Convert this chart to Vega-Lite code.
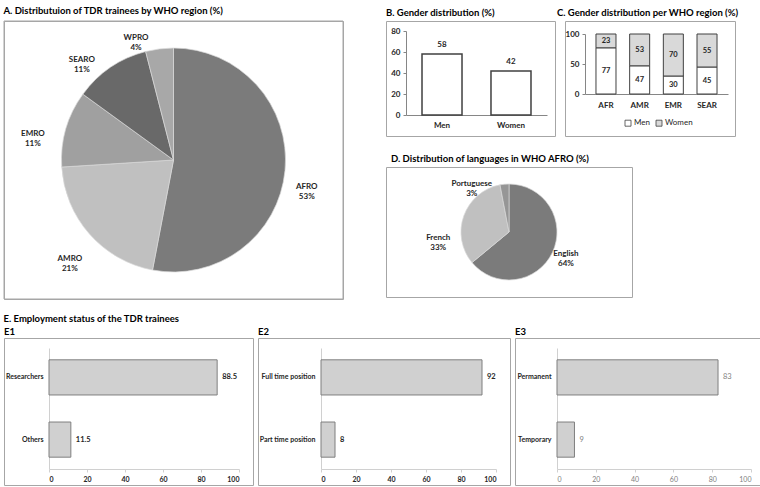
{
  "$schema": "https://vega.github.io/schema/vega-lite/v6.json",
  "background": "white",
  "padding": {"left": 3, "top": 5, "right": 0, "bottom": 0},
  "spacing": 13,
  "config": {
    "font": "Lato",
    "view": {"stroke": "#a6a6a6", "strokeWidth": 1},
    "axis": {"grid": false, "labelFont": "Lato", "labelFontSize": 8, "labelColor": "#262626", "domainColor": "#868686", "tickColor": "#868686", "title": null},
    "title": {"font": "Lato", "fontSize": 9.5, "fontWeight": "bold", "anchor": "start", "color": "#000000", "offset": 4},
    "text": {"font": "Lato"}
  },
  "resolve": {"scale": {"color": "independent", "theta": "independent"}, "legend": {"color": "independent"}},
  "vconcat": [
    {
      "spacing": 41,
      "resolve": {"scale": {"color": "independent", "theta": "independent"}, "legend": {"color": "independent"}},
      "hconcat": [
        {
          "width": 339, "height": 278,
          "view": {"stroke": "#a6a6a6", "strokeWidth": 1},
          "title": {"text": "A. Distributuion of TDR trainees  by WHO region (%)"},
          "data": {"values": [
            {"region": "AFRO", "pct": 53, "label": "AFRO\n53%"},
            {"region": "AMRO", "pct": 21, "label": "AMRO\n21%"},
            {"region": "EMRO", "pct": 11, "label": "EMRO\n11%"},
            {"region": "SEARO", "pct": 11, "label": "SEARO\n11%"},
            {"region": "WPRO", "pct": 4, "label": "WPRO\n4%"}
          ]},
          "layer": [
            {
              "transform": [{"aggregate": [{"op": "count", "as": "n"}]}],
              "mark": {"type": "rect", "fillOpacity": 0, "stroke": "#a6a6a6", "strokeWidth": 1},
              "encoding": {}
            },
            {
              "mark": {"type": "arc", "outerRadius": 112, "stroke": "#d9d9d9", "strokeWidth": 0.7},
              "encoding": {
                "theta": {"field": "pct", "type": "quantitative", "stack": true},
                "color": {"field": "region", "type": "nominal", "legend": null,
                  "scale": {"domain": ["AFRO", "AMRO", "EMRO", "SEARO", "WPRO"], "range": ["#7b7b7b", "#c0c0c0", "#a0a0a0", "#696969", "#a8a8a8"]}}
              }
            },
            {
              "mark": {"type": "text", "radius": 136, "lineBreak": "\n", "fontSize": 8, "fontWeight": "bold", "fill": "#262626", "lineHeight": 10},
              "encoding": {
                "theta": {"field": "pct", "type": "quantitative", "stack": true, "scale": {"range": [0.2094, 6.1035]}},
                "detail": {"field": "region", "type": "nominal"},
                "text": {"field": "label", "type": "nominal"},
                "opacity": {"condition": {"test": "datum.region === 'AFRO' || datum.region === 'SEARO'", "value": 1}, "value": 0}
              }
            },
            {
              "mark": {"type": "text", "radius": 143, "lineBreak": "\n", "fontSize": 8, "fontWeight": "bold", "fill": "#262626", "lineHeight": 10},
              "encoding": {
                "theta": {"field": "pct", "type": "quantitative", "stack": true, "scale": {"range": [0.2094, 6.1035]}},
                "detail": {"field": "region", "type": "nominal"},
                "text": {"field": "label", "type": "nominal"},
                "opacity": {"condition": {"test": "datum.region === 'AMRO' || datum.region === 'EMRO'", "value": 1}, "value": 0}
              }
            },
            {
              "mark": {"type": "text", "radius": 128, "lineBreak": "\n", "fontSize": 8, "fontWeight": "bold", "fill": "#262626", "lineHeight": 10},
              "encoding": {
                "theta": {"field": "pct", "type": "quantitative", "stack": true, "scale": {"range": [0.2094, 6.1035]}},
                "detail": {"field": "region", "type": "nominal"},
                "text": {"field": "label", "type": "nominal"},
                "opacity": {"condition": {"test": "datum.region === 'WPRO'", "value": 1}, "value": 0}
              }
            }
          ],
          "resolve": {"scale": {"theta": "independent"}}
        },
        {
          "spacing": 16,
          "resolve": {"scale": {"color": "independent", "theta": "independent"}, "legend": {"color": "independent"}},
          "vconcat": [
            {
              "spacing": 0,
              "resolve": {"scale": {"color": "independent"}, "legend": {"color": "independent"}},
              "hconcat": [
                {
                  "width": 169, "height": 115,
                  "title": {"text": "B. Gender distribution (%)"},
                  "data": {"values": [
                    {"gender": "Men", "pct": 58},
                    {"gender": "Women", "pct": 42}
                  ]},
                  "encoding": {
                    "x": {"field": "gender", "type": "nominal", "sort": null,
                      "scale": {"range": [20, 161], "paddingInner": 0.42, "paddingOuter": 0.232},
                      "axis": {"labelAngle": 0, "offset": -21, "ticks": false, "labelPadding": 6, "labelFontWeight": "bold"}},
                    "y": {"field": "pct", "type": "quantitative",
                      "scale": {"domain": [0, 80], "range": [94, 10]},
                      "axis": {"values": [0, 20, 40, 60, 80], "offset": -20, "tickSize": 3, "labelPadding": 3, "labelFontWeight": "bold"}}
                  },
                  "layer": [
                    {"mark": {"type": "bar", "fill": "white", "stroke": "#404040", "strokeWidth": 1.5}},
                    {"mark": {"type": "text", "dy": -9, "fontSize": 8, "fontWeight": "bold", "fill": "#262626"},
                      "encoding": {"text": {"field": "pct", "type": "quantitative"}}}
                  ]
                },
                {
                  "width": 170, "height": 115,
                  "title": {"text": "C. Gender distribution per WHO region (%)", "dx": -8},
                  "data": {"values": [
                    {"region": "AFR", "gender": "Men", "pct": 77},
                    {"region": "AFR", "gender": "Women", "pct": 23},
                    {"region": "AMR", "gender": "Men", "pct": 47},
                    {"region": "AMR", "gender": "Women", "pct": 53},
                    {"region": "EMR", "gender": "Men", "pct": 30},
                    {"region": "EMR", "gender": "Women", "pct": 70},
                    {"region": "SEAR", "gender": "Men", "pct": 45},
                    {"region": "SEAR", "gender": "Women", "pct": 55}
                  ]},
                  "encoding": {
                    "x": {"field": "region", "type": "nominal", "sort": null,
                      "scale": {"range": [20, 163], "paddingInner": 0.406, "paddingOuter": 0.326},
                      "axis": {"labelAngle": 0, "offset": -42, "ticks": false, "labelPadding": 7, "labelFontWeight": "bold"}},
                    "y": {"field": "pct", "type": "quantitative", "stack": "zero",
                      "scale": {"domain": [0, 100], "range": [73, 13]},
                      "axis": {"values": [0, 50, 100], "offset": -20, "tickSize": 3, "labelPadding": 3, "labelFontWeight": "bold"}},
                    "order": {"field": "gender", "type": "nominal", "sort": "ascending"}
                  },
                  "layer": [
                    {"mark": {"type": "bar", "stroke": "#404040", "strokeWidth": 1},
                      "encoding": {
                        "color": {"field": "gender", "type": "nominal",
                          "scale": {"domain": ["Men", "Women"], "range": ["#ffffff", "#d9d9d9"]},
                          "legend": {"title": null, "orient": "none", "legendX": 59, "legendY": 98, "direction": "horizontal",
                            "symbolType": "square", "symbolSize": 36, "symbolStrokeColor": "#404040", "symbolStrokeWidth": 0.8,
                            "labelFontSize": 8, "labelFont": "Lato", "labelColor": "#262626", "columnPadding": 4, "labelOffset": 2}}
                      }},
                    {"mark": {"type": "text", "fontSize": 7.5, "fontWeight": "bold", "fill": "#262626"},
                      "encoding": {
                        "y": {"field": "pct", "type": "quantitative", "stack": "zero", "bandPosition": 0.5},
                        "detail": {"field": "gender", "type": "nominal"},
                        "text": {"field": "pct", "type": "quantitative"}
                      }}
                  ]
                }
              ]
            },
            {
              "width": 246, "height": 130,
              "view": {"stroke": "#a6a6a6", "strokeWidth": 1},
              "title": {"text": "D. Distribution of languages in WHO AFRO (%)", "dx": 5},
              "data": {"values": [
                {"language": "English", "pct": 64, "label": "English\n64%"},
                {"language": "French", "pct": 33, "label": "French\n33%"},
                {"language": "Portuguese", "pct": 3, "label": "Portuguese\n3%"}
              ]},
              "layer": [
                {
                  "mark": {"type": "arc", "outerRadius": 48, "stroke": "#d9d9d9", "strokeWidth": 0.7},
                  "encoding": {
                    "theta": {"field": "pct", "type": "quantitative", "stack": true},
                    "color": {"field": "language", "type": "nominal", "legend": null,
                      "scale": {"domain": ["English", "French", "Portuguese"], "range": ["#7b7b7b", "#c0c0c0", "#969696"]}}
                  }
                },
                {
                  "mark": {"type": "text", "radius": 61, "lineBreak": "\n", "fontSize": 8, "fontWeight": "bold", "fill": "#262626", "lineHeight": 10},
                  "encoding": {
                    "theta": {"field": "pct", "type": "quantitative", "stack": true, "scale": {"range": [0.162, 5.711]}},
                    "detail": {"field": "language", "type": "nominal"},
                    "text": {"field": "label", "type": "nominal"},
                    "opacity": {"condition": {"test": "datum.language !== 'French'", "value": 1}, "value": 0}
                  }
                },
                {
                  "mark": {"type": "text", "radius": 71, "lineBreak": "\n", "fontSize": 8, "fontWeight": "bold", "fill": "#262626", "lineHeight": 10},
                  "encoding": {
                    "theta": {"field": "pct", "type": "quantitative", "stack": true, "scale": {"range": [0.162, 5.711]}},
                    "detail": {"field": "language", "type": "nominal"},
                    "text": {"field": "label", "type": "nominal"},
                    "opacity": {"condition": {"test": "datum.language === 'French'", "value": 1}, "value": 0}
                  }
                }
              ],
              "resolve": {"scale": {"theta": "independent"}}
            }
          ]
        }
      ]
    },
    {
      "title": {"text": "E. Employment status of the TDR trainees", "offset": 3},
      "spacing": 3,
      "hconcat": [
        {
          "width": 249, "height": 147,
          "title": {"text": "E1", "offset": 2},
          "data": {"values": [
            {"status": "Researchers", "value": 88.5},
            {"status": "Others", "value": 11.5}
          ]},
          "encoding": {
            "y": {"field": "status", "type": "nominal", "sort": null,
              "scale": {"range": [10, 131], "paddingInner": 0.435, "paddingOuter": 0.19},
              "axis": {"offset": -45, "ticks": false, "labelPadding": 6, "labelFontSize": 7, "labelFontWeight": "bold", "domainColor": "#d0d0d0"}},
            "x": {"field": "value", "type": "quantitative",
              "scale": {"domain": [0, 100], "range": [45, 235]},
              "axis": {"values": [0, 20, 40, 60, 80, 100], "offset": -16, "tickSize": 3, "labelPadding": 3, "labelFontSize": 7, "labelFontWeight": "bold", "domainColor": "#d0d0d0", "tickColor": "#d0d0d0"}}
          },
          "layer": [
            {"mark": {"type": "bar", "fill": "#d0d0d0", "stroke": "#7f7f7f", "strokeWidth": 1}},
            {"mark": {"type": "text", "align": "left", "dx": 5, "fontSize": 7.5, "fontWeight": "bold", "fill": "#262626"},
              "encoding": {"text": {"field": "value", "type": "quantitative"}}}
          ]
        },
        {
          "width": 252, "height": 147,
          "title": {"text": "E2", "offset": 2},
          "data": {"values": [
            {"status": "Full time position", "value": 92},
            {"status": "Part time position", "value": 8}
          ]},
          "encoding": {
            "y": {"field": "status", "type": "nominal", "sort": null,
              "scale": {"range": [10, 131], "paddingInner": 0.435, "paddingOuter": 0.19},
              "axis": {"offset": -63, "ticks": false, "labelPadding": 6, "labelFontSize": 7, "labelFontWeight": "bold", "domainColor": "#d0d0d0"}},
            "x": {"field": "value", "type": "quantitative",
              "scale": {"domain": [0, 100], "range": [63, 238]},
              "axis": {"values": [0, 20, 40, 60, 80, 100], "offset": -16, "tickSize": 3, "labelPadding": 3, "labelFontSize": 7, "labelFontWeight": "bold", "domainColor": "#d0d0d0", "tickColor": "#d0d0d0"}}
          },
          "layer": [
            {"mark": {"type": "bar", "fill": "#d0d0d0", "stroke": "#7f7f7f", "strokeWidth": 1}},
            {"mark": {"type": "text", "align": "left", "dx": 5, "fontSize": 7.5, "fontWeight": "bold", "fill": "#262626"},
              "encoding": {"text": {"field": "value", "type": "quantitative"}}}
          ]
        },
        {
          "width": 248, "height": 147,
          "title": {"text": "E3", "offset": 2},
          "data": {"values": [
            {"status": "Permanent", "value": 83},
            {"status": "Temporary", "value": 9}
          ]},
          "encoding": {
            "y": {"field": "status", "type": "nominal", "sort": null,
              "scale": {"range": [10, 131], "paddingInner": 0.435, "paddingOuter": 0.19},
              "axis": {"offset": -42, "ticks": false, "labelPadding": 6, "labelFontSize": 7, "labelFontWeight": "bold", "domainColor": "#d0d0d0"}},
            "x": {"field": "value", "type": "quantitative",
              "scale": {"domain": [0, 100], "range": [42, 236]},
              "axis": {"values": [0, 20, 40, 60, 80, 100], "offset": -16, "tickSize": 3, "labelPadding": 3, "labelFontSize": 7, "labelColor": "#808080", "domainColor": "#d0d0d0", "tickColor": "#d0d0d0"}}
          },
          "layer": [
            {"mark": {"type": "bar", "fill": "#d0d0d0", "stroke": "#7f7f7f", "strokeWidth": 1}},
            {"mark": {"type": "text", "align": "left", "dx": 5, "fontSize": 7.5, "fill": "#808080"},
              "encoding": {"text": {"field": "value", "type": "quantitative"}}}
          ]
        }
      ]
    }
  ]
}
